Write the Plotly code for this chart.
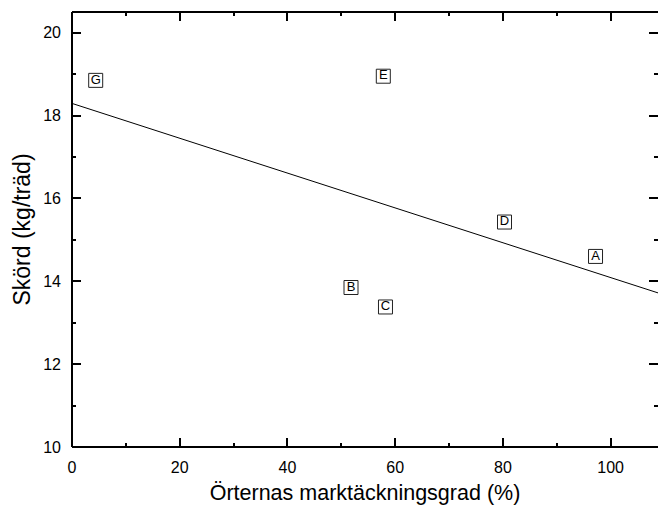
import numpy as np
import plotly.graph_objects as go

# Ground-cover percentage of herbs and yield per tree for each plot
plots = ["A", "B", "C", "D", "E", "G"]
cover_pct = [97.2, 51.8, 58.2, 80.3, 57.8, 4.4]
yield_kg = [14.60, 13.85, 13.38, 15.43, 18.95, 18.85]

x_range = [0, 108.8]
y_range = [10, 20.5]

# Least-squares regression line through the plots
slope, intercept = np.polyfit(cover_pct, yield_kg, 1)
fit_x = np.array([0.0, 110.0])
fit_y = intercept + slope * fit_x

FONT = "Liberation Sans, Arial, sans-serif"

fig = go.Figure()
fig.add_trace(go.Scatter(
    x=fit_x, y=fit_y, mode="lines",
    line=dict(color="black", width=1),
    hoverinfo="skip", showlegend=False,
))
fig.add_trace(go.Scatter(
    x=cover_pct, y=yield_kg, mode="markers+text",
    text=plots, textposition="middle center",
    textfont=dict(family=FONT, size=13, color="black"),
    marker=dict(symbol="square-open", size=14, color="#222",
                line=dict(width=1, color="#222")),
    showlegend=False,
))

axis_common = dict(
    showgrid=False, zeroline=False, showline=False, mirror="allticks",
    ticks="inside", ticklen=9, tickwidth=1.5, tickcolor="black",
    tickfont=dict(family=FONT, size=16, color="black"),
)

# Frame: left, bottom and top spines (the right side carries ticks only)
frame = dict(type="line", xref="paper", yref="paper",
             line=dict(color="black", width=2), layer="above")
shapes = [
    dict(frame, x0=0, x1=0, y0=0, y1=1),
    dict(frame, x0=0, x1=1, y0=0, y1=0),
    dict(frame, x0=0, x1=1, y0=1, y1=1),
]

fig.update_layout(
    width=658, height=509,
    margin=dict(l=72, r=0, t=12, b=62),
    paper_bgcolor="white", plot_bgcolor="white",
    shapes=shapes,
    xaxis=dict(
        range=x_range, tickvals=[0, 20, 40, 60, 80, 100],
        ticklabelstandoff=9,
        minor=dict(dtick=10, ticks="inside", ticklen=4, tickwidth=1.5,
                   tickcolor="black"),
        title=dict(text="Örternas marktäckningsgrad (%)",
                   font=dict(family=FONT, size=21.5, color="black"),
                   standoff=9),
        **axis_common,
    ),
    yaxis=dict(
        range=y_range, tickvals=[10, 12, 14, 16, 18, 20],
        ticklabelstandoff=10,
        minor=dict(dtick=1, ticks="inside", ticklen=4, tickwidth=1.5,
                   tickcolor="black"),
        title=dict(text="Skörd (kg/träd)",
                   font=dict(family=FONT, size=23, color="black"),
                   standoff=6),
        **axis_common,
    ),
)

fig.write_html("out.html")
